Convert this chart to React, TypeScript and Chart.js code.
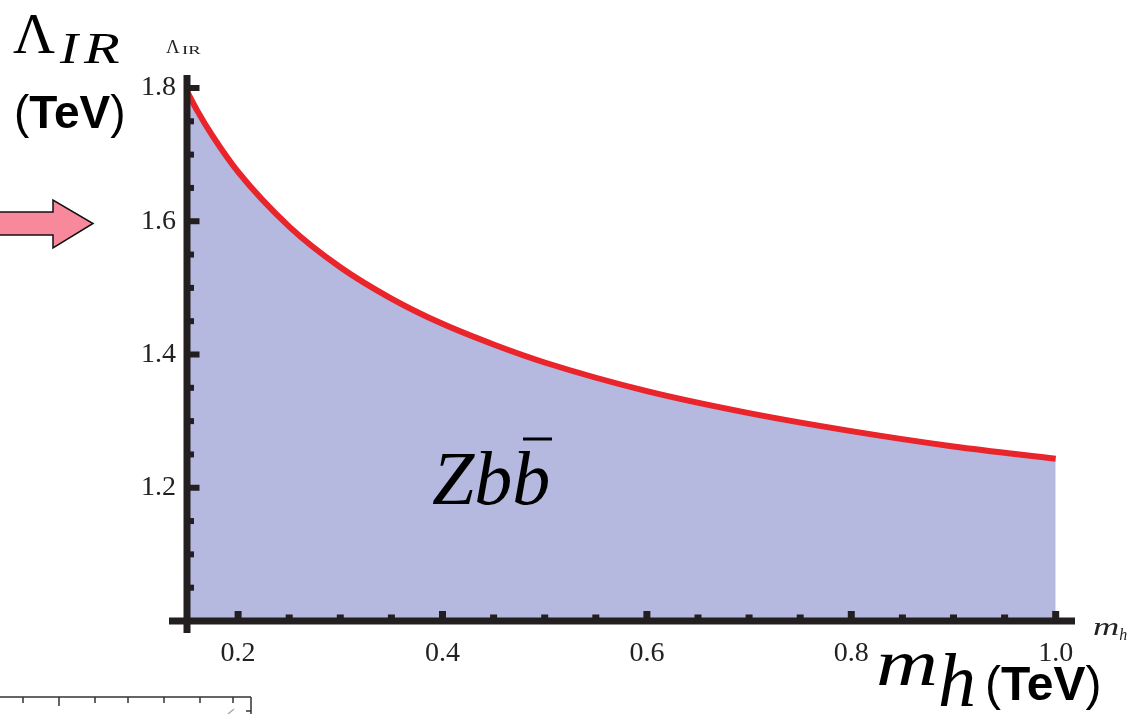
import { useEffect, useRef } from 'react';
import { Chart, registerables } from 'chart.js';

Chart.register(...registerables);

// Data
const massTeV = [0.15, 0.16, 0.175, 0.2, 0.25, 0.3, 0.35, 0.4, 0.45, 0.5, 0.6, 0.7, 0.8, 0.9, 1.0];
const lambdaIR = [1.795, 1.766, 1.728, 1.674, 1.592, 1.531, 1.484, 1.446, 1.415, 1.388, 1.345, 1.312, 1.285, 1.262, 1.2435];
const xMajorTicks = [0.2, 0.4, 0.6, 0.8, 1.0];
const yMajorTicks = [1.2, 1.4, 1.6, 1.8];
const xMinorTicks = [0.25, 0.3, 0.35, 0.45, 0.5, 0.55, 0.65, 0.7, 0.75, 0.85, 0.9, 0.95];
const yMinorTicks = [1.05, 1.1, 1.15, 1.25, 1.3, 1.35, 1.45, 1.5, 1.55, 1.65, 1.7, 1.75];
const xRange = [0.15, 1.0189];
const yRange = [1.0, 1.8195];

const AXIS = '#231f20';
const SERIF = "'Liberation Serif', 'DejaVu Serif', serif";
const SANS = "'Liberation Sans', Arial, sans-serif";

function drawScaled(ctx: CanvasRenderingContext2D, text: string, x: number, y: number, font: string, sx: number) {
  ctx.save();
  ctx.font = font;
  ctx.translate(x, y);
  ctx.scale(sx, 1);
  ctx.fillText(text, 0, 0);
  const w = ctx.measureText(text).width * sx;
  ctx.restore();
  return w;
}

function drawTeV(ctx: CanvasRenderingContext2D, x: number, y: number, size: number) {
  ctx.font = `${size}px ${SANS}`;
  ctx.fillText('(', x, y);
  x += ctx.measureText('(').width;
  ctx.font = `bold ${size}px ${SANS}`;
  ctx.fillText('TeV', x, y);
  x += ctx.measureText('TeV').width;
  ctx.font = `${size}px ${SANS}`;
  ctx.fillText(')', x, y);
}

const axesPlugin = {
  id: 'mathAxes',
  afterDatasetsDraw(chart: any) {
    const { ctx } = chart;
    const xs = chart.scales.x;
    const ys = chart.scales.y;
    const x0 = xs.getPixelForValue(xRange[0]);
    const y0 = ys.getPixelForValue(yRange[0]);
    const yTop = ys.getPixelForValue(yRange[1]);
    const xRight = xs.getPixelForValue(xRange[1]);
    ctx.save();
    ctx.fillStyle = AXIS;
    ctx.fillRect(x0 - 3.5, yTop, 7, y0 + 12 - yTop);
    ctx.fillRect(x0 - 18, y0 - 3.5, xRight - (x0 - 18), 7);
    xMajorTicks.forEach((v) => {
      const px = xs.getPixelForValue(v);
      ctx.fillRect(px - 3.5, y0 - 3.5 - 6.5, 7, 7);
    });
    xMinorTicks.forEach((v) => {
      const px = xs.getPixelForValue(v);
      ctx.fillRect(px - 3.5, y0 - 3.5 - 3, 7, 4);
    });
    yMajorTicks.forEach((v) => {
      const py = ys.getPixelForValue(v);
      ctx.fillRect(x0, py - 3, 3.5 + 9, 6);
    });
    yMinorTicks.forEach((v) => {
      const py = ys.getPixelForValue(v);
      ctx.fillRect(x0, py - 3, 3.5 + 3.5, 6);
    });
    ctx.restore();
  },
};

const annotationPlugin = {
  id: 'annotations',
  afterDraw(chart: any) {
    const { ctx } = chart;
    ctx.save();
    ctx.fillStyle = '#000';
    ctx.textBaseline = 'alphabetic';
    ctx.textAlign = 'left';

    // Big Lambda_IR (top-left)
    ctx.font = `58px ${SERIF}`;
    ctx.fillText('Λ', 13, 53);
    drawScaled(ctx, 'I', 60, 63, `italic 45px ${SERIF}`, 1.2);
    drawScaled(ctx, 'R', 84, 63, `italic 45px ${SERIF}`, 1.3);

    // (TeV) top-left
    drawTeV(ctx, 14, 128, 46);

    // small axis label Lambda_IR
    ctx.fillStyle = '#222';
    drawScaled(ctx, 'Λ', 166, 53, `18px ${SERIF}`, 1.05);
    drawScaled(ctx, 'IR', 182, 54, `12px ${SERIF}`, 1.55);

    // small axis label m_h
    const mw = drawScaled(ctx, 'm', 1093, 635, `italic 26px ${SERIF}`, 1.4);
    drawScaled(ctx, 'h', 1093 + mw, 640, `italic 16px ${SERIF}`, 1.0);

    // Big m_h (TeV) bottom-right
    ctx.fillStyle = '#000';
    drawScaled(ctx, 'm', 876, 685, `italic 66px ${SERIF}`, 1.3);
    drawScaled(ctx, 'h', 938, 706, `italic 76px ${SERIF}`, 1.0);
    drawTeV(ctx, 985, 700, 48);

    // Z b b-bar label
    ctx.font = `italic 76px ${SERIF}`;
    ctx.fillText('Zbb', 432, 504);
    ctx.fillRect(523, 437.5, 29, 3);

    // pink arrow
    ctx.beginPath();
    ctx.moveTo(-2, 212);
    ctx.lineTo(53, 212);
    ctx.lineTo(53, 200);
    ctx.lineTo(93, 223.5);
    ctx.lineTo(53, 248);
    ctx.lineTo(53, 235);
    ctx.lineTo(-2, 235);
    ctx.closePath();
    ctx.fillStyle = '#f8889c';
    ctx.fill();
    ctx.lineWidth = 1.5;
    ctx.strokeStyle = '#111';
    ctx.stroke();

    // fragment of another figure (bottom-left)
    ctx.strokeStyle = '#333';
    ctx.lineWidth = 1.5;
    ctx.beginPath();
    ctx.moveTo(0, 697);
    ctx.lineTo(251, 697);
    ctx.moveTo(251, 697);
    ctx.lineTo(251, 714);
    [23, 59, 95, 128, 164, 200, 233].forEach((tx, i) => {
      ctx.moveTo(tx, 697);
      ctx.lineTo(tx, i === 1 ? 706 : 703);
    });
    ctx.moveTo(246, 711);
    ctx.lineTo(251, 711);
    ctx.stroke();
    ctx.strokeStyle = '#aaa';
    ctx.beginPath();
    ctx.moveTo(228, 714);
    ctx.lineTo(234, 709);
    ctx.stroke();
    ctx.restore();
  },
};

export default function App() {
  const canvasRef = useRef<HTMLCanvasElement | null>(null);

  useEffect(() => {
    if (!canvasRef.current) return;
    const chart = new Chart(canvasRef.current, {
      type: 'line',
      data: {
        labels: massTeV,
        datasets: [
          {
            data: massTeV.map((m, i) => ({ x: m, y: lambdaIR[i] })),
            borderColor: '#e9242a',
            borderWidth: 6,
            backgroundColor: '#b5b9df',
            fill: 'start',
            pointRadius: 0,
            cubicInterpolationMode: 'monotone',
            borderCapStyle: 'butt',
          },
        ],
      },
      options: {
        animation: false,
        responsive: false,
        devicePixelRatio: 1,
        layout: { padding: { left: 0, top: 75, right: 72, bottom: 0 } },
        plugins: {
          legend: { display: false },
          tooltip: { enabled: false },
        },
        scales: {
          x: {
            type: 'linear',
            min: xRange[0],
            max: xRange[1],
            grid: { display: false, drawTicks: false },
            border: { display: false },
            afterBuildTicks: (s: any) => {
              s.ticks = xMajorTicks.map((v) => ({ value: v }));
            },
            afterFit: (s: any) => {
              s.height = 93;
            },
            ticks: {
              padding: 16,
              color: '#222',
              font: { family: SERIF, size: 28 },
              maxRotation: 0,
              autoSkip: false,
              callback: (v: any) => Number(v).toFixed(1),
            },
          },
          y: {
            type: 'linear',
            min: yRange[0],
            max: yRange[1],
            grid: { display: false, drawTicks: false },
            border: { display: false },
            afterBuildTicks: (s: any) => {
              s.ticks = yMajorTicks.map((v) => ({ value: v }));
            },
            afterFit: (s: any) => {
              s.width = 187;
            },
            ticks: {
              padding: 11,
              color: '#222',
              font: { family: SERIF, size: 28 },
              autoSkip: false,
              callback: (v: any) => Number(v).toFixed(1),
            },
          },
        },
      },
      plugins: [axesPlugin, annotationPlugin],
    } as any);
    return () => chart.destroy();
  }, []);

  return (
    <div style={{ position: 'absolute', left: 0, top: 0, width: 1147, height: 714, background: '#fff' }}>
      <canvas ref={canvasRef} width={1147} height={714} style={{ display: 'block' }} />
    </div>
  );
}
